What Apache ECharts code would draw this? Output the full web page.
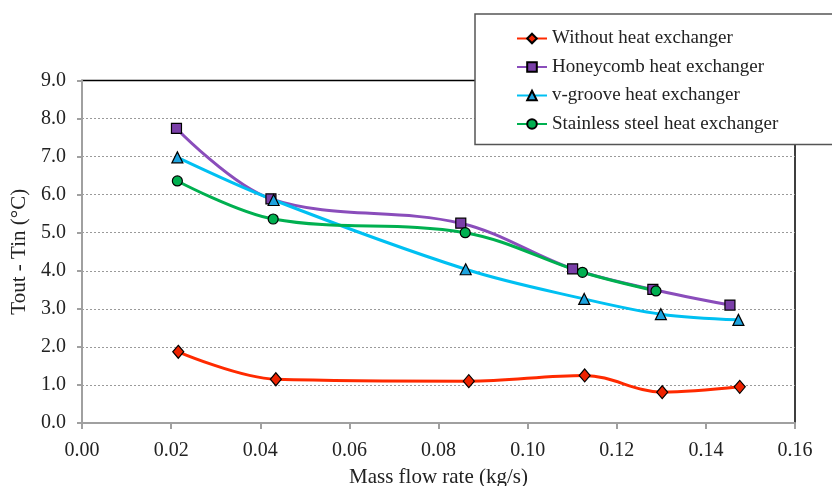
<!DOCTYPE html>
<html>
<head>
<meta charset="utf-8">
<script src="https://cdn.jsdelivr.net/npm/echarts@6/dist/echarts.min.js"></script>
<style>
html,body{margin:0;padding:0;background:#fff;}
#chart{width:832px;height:486px;}
</style>
</head>
<body>
<div id="chart"></div>
<script>
// Data
const seriesNames = [
  'Without heat exchanger',
  'Honeycomb heat exchanger',
  'v-groove heat exchanger',
  'Stainless steel heat exchanger'
];
const withoutX = [0.0216, 0.0435, 0.0868, 0.1128, 0.1302, 0.1476];
const withoutY = [1.87, 1.15, 1.10, 1.25, 0.81, 0.95];
const honeycombX = [0.0212, 0.0424, 0.0850, 0.1101, 0.1281, 0.1454];
const honeycombY = [7.74, 5.89, 5.25, 4.05, 3.51, 3.10];
const vgrooveX = [0.0214, 0.0430, 0.0861, 0.1127, 0.1299, 0.1473];
const vgrooveY = [6.98, 5.86, 4.04, 3.26, 2.86, 2.71];
const stainlessX = [0.0214, 0.0429, 0.0860, 0.1123, 0.1288];
const stainlessY = [6.36, 5.36, 5.00, 3.96, 3.47];
const xTicks = [0, 0.02, 0.04, 0.06, 0.08, 0.10, 0.12, 0.14, 0.16];
const yTicks = [0, 1, 2, 3, 4, 5, 6, 7, 8, 9];

const pairs = (xs, ys) => xs.map((x, i) => [x, ys[i]]);
const font = 'Liberation Serif';

function mkSeries(name, xs, ys, lineColor, fillColor, symbol, size) {
  return {
    name: name,
    type: 'line',
    data: pairs(xs, ys),
    smooth: 0.35,
    symbol: symbol,
    symbolSize: size,
    lineStyle: { color: lineColor, width: 3 },
    itemStyle: { color: fillColor, borderColor: '#000', borderWidth: 1.2 },
    emphasis: { disabled: true },
    z: 3
  };
}

const chart = echarts.init(document.getElementById('chart'), null, { renderer: 'canvas' });
chart.setOption({
  animation: false,
  backgroundColor: '#fff',
  textStyle: { fontFamily: font },
  grid: {
    left: 82, right: 37, top: 80.5, bottom: 63,
    outerBoundsMode: 'none', containLabel: false,
    show: true, borderColor: '#000', borderWidth: 1.5, backgroundColor: 'transparent'
  },
  legend: {
    orient: 'vertical',
    left: 475, top: 14,
    padding: [15, 64, 11, 41],
    itemGap: 9.5,
    itemWidth: 30, itemHeight: 12,
    backgroundColor: '#fff',
    borderColor: '#555', borderWidth: 1.5,
    textStyle: { fontFamily: font, fontSize: 19, color: '#222' },
    data: seriesNames
  },
  xAxis: {
    type: 'value',
    min: 0, max: 0.16, interval: 0.02,
    name: 'Mass flow rate (kg/s)',
    nameLocation: 'middle', nameGap: 44,
    nameTextStyle: { fontFamily: font, fontSize: 21, color: '#222' },
    axisLine: { show: true, lineStyle: { color: '#a0a0a0', width: 2 } },
    axisTick: { show: true, inside: false, length: 6, lineStyle: { color: '#a0a0a0', width: 2 } },
    axisLabel: {
      fontFamily: font, fontSize: 20, color: '#222', margin: 18,
      formatter: v => v.toFixed(2)
    },
    splitLine: { show: false }
  },
  yAxis: {
    type: 'value',
    min: 0, max: 9, interval: 1,
    name: 'Tout - Tin (°C)',
    nameLocation: 'middle', nameGap: 49, nameRotate: 90,
    nameTextStyle: { fontFamily: font, fontSize: 21, color: '#222' },
    axisLine: { show: true, lineStyle: { color: '#a0a0a0', width: 2 } },
    axisTick: { show: true, inside: false, length: 5, lineStyle: { color: '#a0a0a0', width: 2 } },
    axisLabel: {
      fontFamily: font, fontSize: 20, color: '#222', margin: 16,
      formatter: v => v.toFixed(1)
    },
    splitLine: {
      show: true, showMinLine: false, showMaxLine: false,
      lineStyle: { color: '#9a9a9a', type: [2, 2], width: 1 }
    }
  },
  series: [
    mkSeries(seriesNames[0], withoutX, withoutY, '#ff2a00', '#ee2200', 'diamond', [11, 13]),
    mkSeries(seriesNames[1], honeycombX, honeycombY, '#8a4dbb', '#7a3fa8', 'rect', 10),
    mkSeries(seriesNames[2], vgrooveX, vgrooveY, '#00c0f2', '#1ea3de', 'triangle', 11),
    mkSeries(seriesNames[3], stainlessX, stainlessY, '#00b050', '#00b050', 'circle', 10)
  ]
});
</script>
</body>
</html>
